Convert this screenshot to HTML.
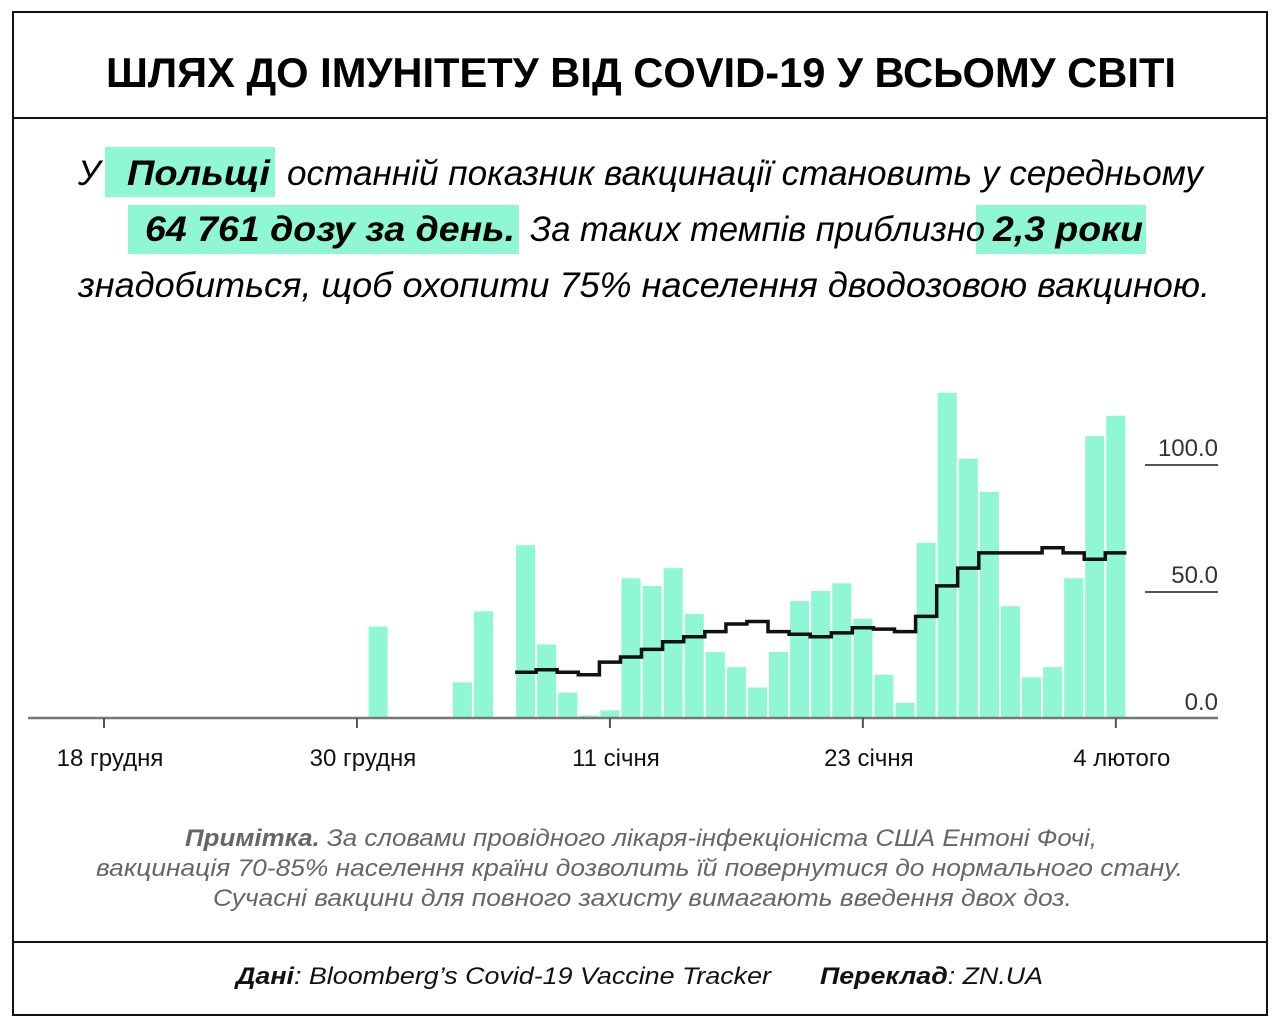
<!DOCTYPE html>
<html><head><meta charset="utf-8"><style>
html,body{margin:0;padding:0;background:#fff;}
body{width:1280px;height:1026px;position:relative;overflow:hidden;font-family:"Liberation Sans",sans-serif;}
svg{position:absolute;left:0;top:0;}
</style></head><body>
<svg id="chart" width="1280" height="1026" viewBox="0 0 1280 1026">
<rect x="13" y="12" width="1254" height="1003" fill="none" stroke="#111" stroke-width="2"/>
<line x1="13" y1="118" x2="1267" y2="118" stroke="#111" stroke-width="2"/>
<line x1="13" y1="942" x2="1267" y2="942" stroke="#111" stroke-width="2"/>
<text x="106" y="87" font-size="42" font-weight="bold" textLength="1070" lengthAdjust="spacingAndGlyphs">ШЛЯХ ДО ІМУНІТЕТУ ВІД COVID-19 У ВСЬОМУ СВІТІ</text>

<g font-size="35" font-style="italic">
<rect x="105" y="147" width="170" height="50" fill="#8ff7d4"/>
<rect x="128" y="205" width="391" height="49" fill="#8ff7d4"/>
<rect x="976" y="205" width="170" height="49" fill="#8ff7d4"/>
<text x="78" y="185">У</text>
<text x="127" y="185" font-weight="bold" textLength="143" lengthAdjust="spacingAndGlyphs">Польщі</text>
<text x="287" y="185" textLength="916" lengthAdjust="spacingAndGlyphs">останній показник вакцинації становить у середньому</text>
<text x="145" y="241" font-weight="bold" textLength="370" lengthAdjust="spacingAndGlyphs">64 761 дозу за день.</text>
<text x="530" y="241" textLength="455" lengthAdjust="spacingAndGlyphs">За таких темпів приблизно</text>
<text x="993" y="241" font-weight="bold" textLength="150" lengthAdjust="spacingAndGlyphs">2,3 роки</text>
<text x="78" y="297" textLength="1132" lengthAdjust="spacingAndGlyphs">знадобиться, щоб охопити 75% населення дводозовою вакциною.</text>
</g>

<g id="plot"></g>

<g font-size="24" font-style="italic" fill="#666">
<text x="185" y="846" textLength="912" lengthAdjust="spacingAndGlyphs"><tspan font-weight="bold">Примітка.</tspan> За словами провідного лікаря-інфекціоніста США Ентоні Фочі,</text>
<text x="96" y="876" textLength="1087" lengthAdjust="spacingAndGlyphs">вакцинація 70-85%  населення країни дозволить їй повернутися до нормального стану.</text>
<text x="213" y="906" textLength="859" lengthAdjust="spacingAndGlyphs">Сучасні вакцини для повного захисту  вимагають введення двох доз.</text>
</g>
<g font-size="24" font-style="italic" fill="#111">
<text x="236" y="984" textLength="535" lengthAdjust="spacingAndGlyphs"><tspan font-weight="bold">Дані</tspan>: Bloomberg’s Covid-19 Vaccine Tracker</text>
<text x="820" y="984" textLength="223" lengthAdjust="spacingAndGlyphs"><tspan font-weight="bold">Переклад</tspan>: ZN.UA</text>
</g>
</svg>
<script>
// Days counted from 18 Dec (day 0)
const barDays = [13,14,15,16,17,18,19,20,21,22,23,24,25,26,27,28,29,30,31,32,33,34,35,36,37,38,39,40,41,42,43,44,45,46,47,48];
const dailyDoses = [36,0,0,0,14,42,0,68,29,10,1,3,55,52,59,41,26,20,12,26,46,50,53,39,17,6,69,128,102,89,44,16,20,55,111,119];
const avgDays = [20,21,22,23,24,25,26,27,28,29,30,31,32,33,34,35,36,37,38,39,40,41,42,43,44,45,46,47,48];
const avgDoses = [18,19,18,17,22,24,27,30,32,34,37,38,34,33,32,33.5,35.5,35,34,40,52,59,65,65,65,67,65,62.5,65];
const tickDays = [0,12,24,36,48];
const tickLabels = ["18 грудня","30 грудня","11 січня","23 січня","4 лютого"];
const yTicks = [0,50,100];
const yTickLabels = ["0.0","50.0","100.0"];

const NS = "http://www.w3.org/2000/svg";
const plot = document.getElementById('plot');
const xS = d => 104 + d * 21.08;
const yS = v => 718 - v * 2.54;
const dayW = 21.08;
function mk(tag, attrs){const e=document.createElementNS(NS,tag);for(const k in attrs)e.setAttribute(k,attrs[k]);plot.appendChild(e);return e;}

barDays.forEach((d,i)=>{
  const v = dailyDoses[i];
  if (v<=0) return;
  const r = mk('rect',{x:xS(d)-dayW/2+1,y:yS(v),width:dayW-2,height:yS(0)-yS(v),fill:'#8ff7d4'});
  
  
});
yTicks.forEach((t,i)=>{
  if (t>0){
    const g = mk('line',{x1:1145,x2:1218,y1:yS(t)+1,y2:yS(t)+1,stroke:'#555','stroke-width':2});
    
    
  }
  const tx = mk('text',{x:1218,y:yS(t)-8,'text-anchor':'end','font-size':24,fill:'#333'});
  tx.textContent = yTickLabels[i];
  
  
});
const axis = mk('line',{x1:28,x2:1218,y1:718,y2:718,stroke:'#777','stroke-width':2.5});


tickDays.forEach((d,i)=>{
  const tk = mk('line',{x1:xS(d),x2:xS(d),y1:718,y2:728,stroke:'#555','stroke-width':2});
  
  
  const tx = mk('text',{x:xS(d)+6,y:766,'text-anchor':'middle','font-size':24,fill:'#111'});
  tx.textContent = tickLabels[i];
  
  
});
let p = '';
avgDays.forEach((d,i)=>{
  const y = yS(avgDoses[i]);
  const x0 = xS(d)-dayW/2, x1 = xS(d)+dayW/2;
  p += (i===0?'M':'L') + x0.toFixed(1)+','+y.toFixed(1)+' L'+x1.toFixed(1)+','+y.toFixed(1)+' ';
});
const line = mk('path',{d:p,fill:'none',stroke:'#111','stroke-width':3.5});


</script>
</body></html>
